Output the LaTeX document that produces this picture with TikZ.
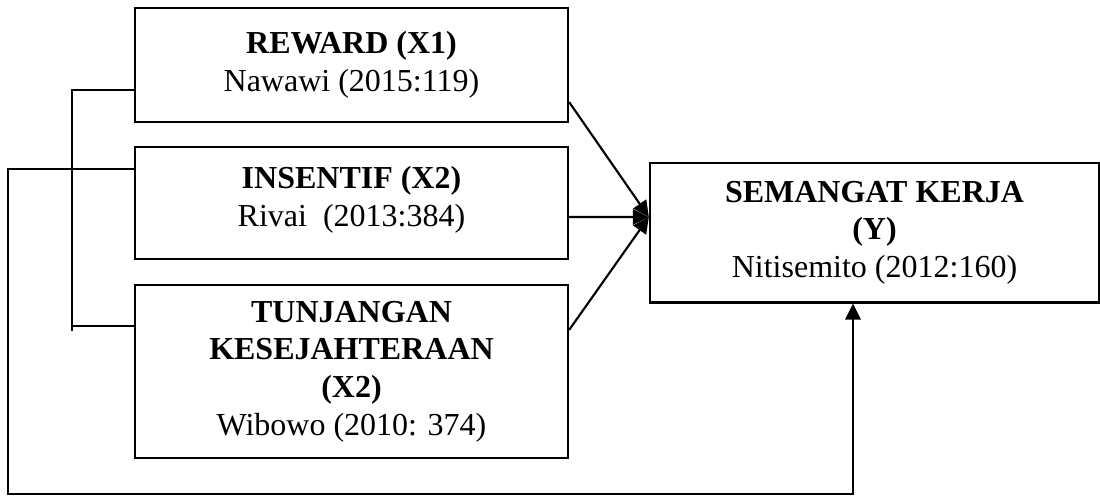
\documentclass[tikz,border=0pt]{standalone}
\usepackage{fontspec}
\setmainfont{Liberation Serif}
\usetikzlibrary{arrows.meta,calc}
\begin{document}
\begin{tikzpicture}[x=0.375pt,y=-0.375pt,
  box/.style={draw=black,line width=0.85pt,inner sep=0pt,align=center,
    font=\fontsize{12}{14.1}\selectfont},
  ln/.style={draw=black,line width=0.8pt},
  arr/.style={ln,-{Triangle[length=6pt,width=5.8pt]}}]
\useasboundingbox (0,0) rectangle (1100,496);
\node[box,minimum width=162.4pt,minimum height=42.75pt] (R) at (351.5,65)
  {\textbf{REWARD (X1)}\\Nawawi (2015:119)};
\node[box,minimum width=162.4pt,minimum height=42pt] (I) at (351.5,203)
  {\textbf{INSENTIF (X2)}\\Rivai\ \ (2013:384)\rule[-5.1pt]{0pt}{5.1pt}};
\node[box,minimum width=162.4pt,minimum height=64.9pt] (T) at (351.5,371.5)
  {\textbf{TUNJANGAN}\\\textbf{KESEJAHTERAAN}\\\textbf{(X2)}\\Wibowo (2010: 374)};
\node[box,minimum width=168.4pt,minimum height=52.3pt] (Y) at (874.5,232.75)
  {\textbf{SEMANGAT KERJA}\\\textbf{(Y)}\\Nitisemito (2012:160)};
\coordinate (yin) at ([yshift=5.9pt]Y.west);
% arrows into Y
\draw[arr] ([yshift=-13.9pt]R.east) -- (yin);
\draw[arr] ([yshift=-5.25pt]I.east) -- (yin);
\draw[arr] ([yshift=15.6pt]T.east) -- (yin);
% bracket on the left
\draw[ln] ([yshift=-9.4pt]R.west) -- ++(-62,0) -- ++(0,241);
\draw[ln] ([yshift=17.1pt]T.west) -- ++(-62,0);
% loop from INSENTIF to Y
\draw[arr] ([yshift=12.75pt]I.west) -- ++(-126,0) -- ++(0,325) -| ([xshift=-8.06pt]Y.south);
\end{tikzpicture}
\end{document}
